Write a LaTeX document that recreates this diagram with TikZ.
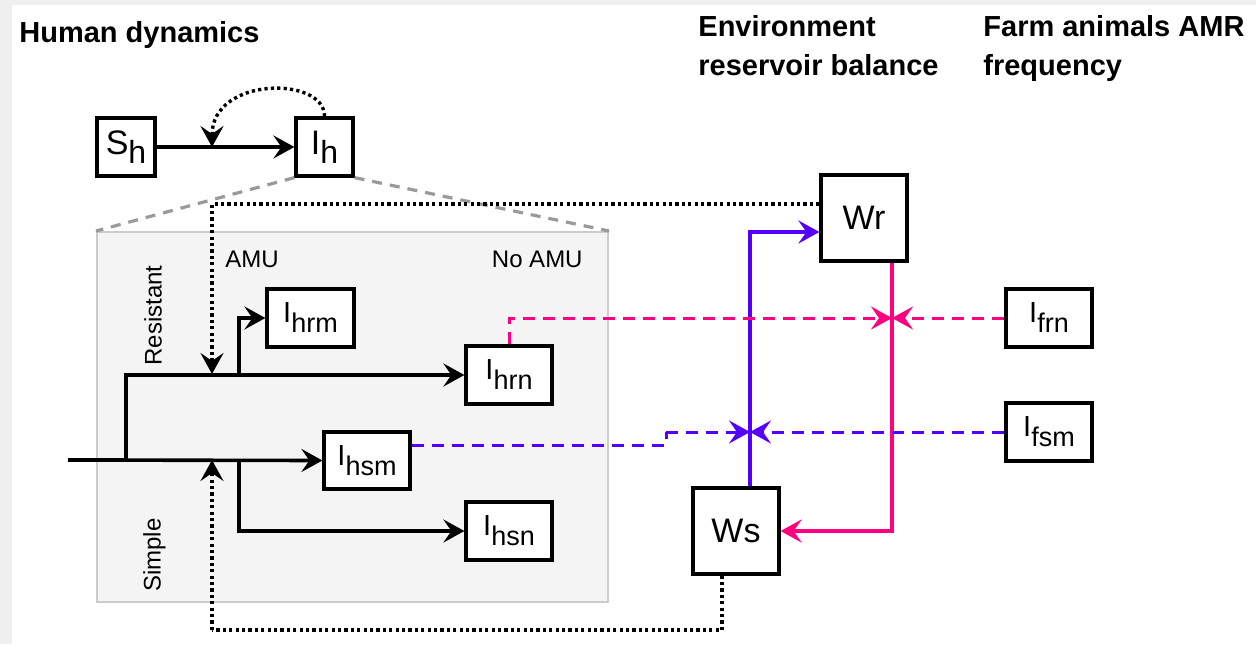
\documentclass[tikz,border=0pt]{standalone}
\usepackage{fontspec}
\setmainfont{Liberation Sans}
\usetikzlibrary{arrows.meta}

\definecolor{pinkline}{HTML}{FF0080}
\definecolor{violetline}{HTML}{5500FF}
\definecolor{panelfill}{HTML}{F4F4F4}
\definecolor{panelborder}{HTML}{CCCCCC}
\definecolor{zoomgray}{HTML}{9A9A9A}
\definecolor{pagegray}{HTML}{F0F0F0}

% compartment label: letter with a lowered index
\newcommand\compI[1]{I\raisebox{-5pt}{\fontsize{13.5}{13.5}\selectfont #1}}
\newcommand\bigsub[2]{#1\raisebox{-4.5pt}{\fontsize{16}{16}\selectfont #2}}

\begin{document}
\begin{tikzpicture}[x=0.5pt,y=-0.5pt,
  box/.style={draw=black,line width=1.6pt,fill=white,inner sep=0pt,
              font=\fontsize{14.5}{16}\selectfont},
  bigbox/.style={box,font=\fontsize{17}{19}\selectfont},
  tipped/.style={-{Stealth[length=10.5pt,width=11.5pt,inset=4pt]}},
  flow/.style={line width=1.8pt,tipped},
  plain/.style={line width=1.8pt},
  dotline/.style={line width=1.7pt,dash pattern=on 1.6pt off 1.6pt},
  pinkdash/.style={line width=1.5pt,draw=pinkline,dash pattern=on 6pt off 4pt},
  violetdash/.style={line width=1.5pt,draw=violetline,dash pattern=on 6pt off 4pt},
  zoomline/.style={line width=1.6pt,draw=zoomgray,dash pattern=on 5pt off 4pt},
  title/.style={font=\bfseries\fontsize{14.5}{17}\selectfont,anchor=base west,inner sep=0pt},
  tag/.style={font=\fontsize{12}{14}\selectfont,inner sep=0pt}]

% page
\fill[pagegray] (0,0) rectangle (1256,644);
\fill[white] (12,5) rectangle (1256,644);
\useasboundingbox (0,0) rectangle (1256,644);

% section titles
\node[title] (tHuman) at (19,42) {Human dynamics};
\node[title] (tEnv1) at (698,36) {Environment};
\node[title] (tEnv2) at (698,75) {reservoir balance};
\node[title] (tFarm1) at (983,36) {Farm animals AMR};
\node[title] (tFarm2) at (983,75) {frequency};

% detail panel of the infected human compartment
\node[draw=panelborder,fill=panelfill,line width=1pt,minimum width=255.5pt,
      minimum height=185pt,inner sep=0pt] (panel) at (352.5,417) {};
\node[tag,anchor=base west] (amu) at (225,267) {AMU};
\node[tag,anchor=base east] (noamu) at (583,267) {No AMU};
\node[tag,rotate=90] (res) at (153,315.5) {Resistant};
\node[tag,rotate=90] (simp) at (154.5,555) {Simple};

% compartments
\node[bigbox,minimum width=29pt,minimum height=29pt] (sh) at (126,147) {\bigsub{S}{h}};
\node[bigbox,minimum width=28.5pt,minimum height=29pt] (ih) at (324.5,147) {\bigsub{I}{h}};
\node[box,minimum width=43.5pt,minimum height=29pt] (ihrm) at (310.5,318) {\compI{hrm}};
\node[box,minimum width=43pt,minimum height=29pt] (ihrn) at (509,375) {\compI{hrn}};
\node[box,minimum width=43pt,minimum height=28.5pt] (ihsm) at (367,460.5) {\compI{hsm}};
\node[box,minimum width=43pt,minimum height=29pt] (ihsn) at (509,531) {\compI{hsn}};
\node[bigbox,minimum width=43pt,minimum height=43pt] (wr) at (864,218) {Wr};
\node[bigbox,minimum width=43pt,minimum height=43pt] (ws) at (736,531) {Ws};
\node[box,minimum width=43pt,minimum height=29pt] (ifrn) at (1049,318) {\compI{frn}};
\node[box,minimum width=43pt,minimum height=29pt] (ifsm) at (1049,432) {\compI{fsm}};

% zoom guides from I_h to the panel
\draw[zoomline] (ih.south west) -- (panel.north west);
\draw[zoomline] (ih.south east) -- (panel.north east);

% junction points
\coordinate (inflow) at (68,460);
\coordinate (jR) at (126,460);
\coordinate (jRm) at (239,374);
\coordinate (jSn) at (239,460);
\coordinate (mInf) at (212,147);
\coordinate (mR) at (212,374);
\coordinate (mS) at (212,460);
\coordinate (cBot) at (212,630);
\coordinate (kLow) at (666,445);
\coordinate (kHigh) at (666,432);
\coordinate (mPink) at (892,318);
\coordinate (mViolet) at (750,432);

% infection S_h -> I_h and its force of infection
\draw[flow] (sh) -- (ih);
\draw[dotline,tipped] (ih.north) .. controls (325,76) and (212,76) .. (mInf);

% splitting of new infections
\draw[plain] (inflow) -- (jR);
\draw[flow] (jR) |- (ihrn.west);
\draw[flow] (jRm) |- (ihrm.west);
\draw[flow] (inflow) -- (ihsm.west);
\draw[flow] (jSn) |- (ihsn.west);

% environmental pressure on infections
\draw[dotline,tipped] ([yshift=7pt]wr.west) -| (mR);
\draw[dotline] ([xshift=-7pt]ws.south) |- (cBot);
\draw[dotline,tipped] (cBot) -- (mS);

% reservoir exchange
\draw[flow,draw=pinkline] ([xshift=14pt]wr.south) |- (ws.east);
\draw[flow,draw=violetline] ([xshift=7pt]ws.north) |- ([yshift=-7pt]wr.west);

% shedding into the environment
\draw[pinkdash,tipped] (ihrn.north) |- (mPink);
\draw[pinkdash,tipped] (ifrn.west) -- (mPink);
\draw[violetdash] ([yshift=7.75pt]ihsm.east) -- (kLow) -- (kHigh);
\draw[violetdash,tipped] (kHigh) -- (mViolet);
\draw[violetdash,tipped] (ifsm.west) -- (mViolet);

\end{tikzpicture}
\end{document}
